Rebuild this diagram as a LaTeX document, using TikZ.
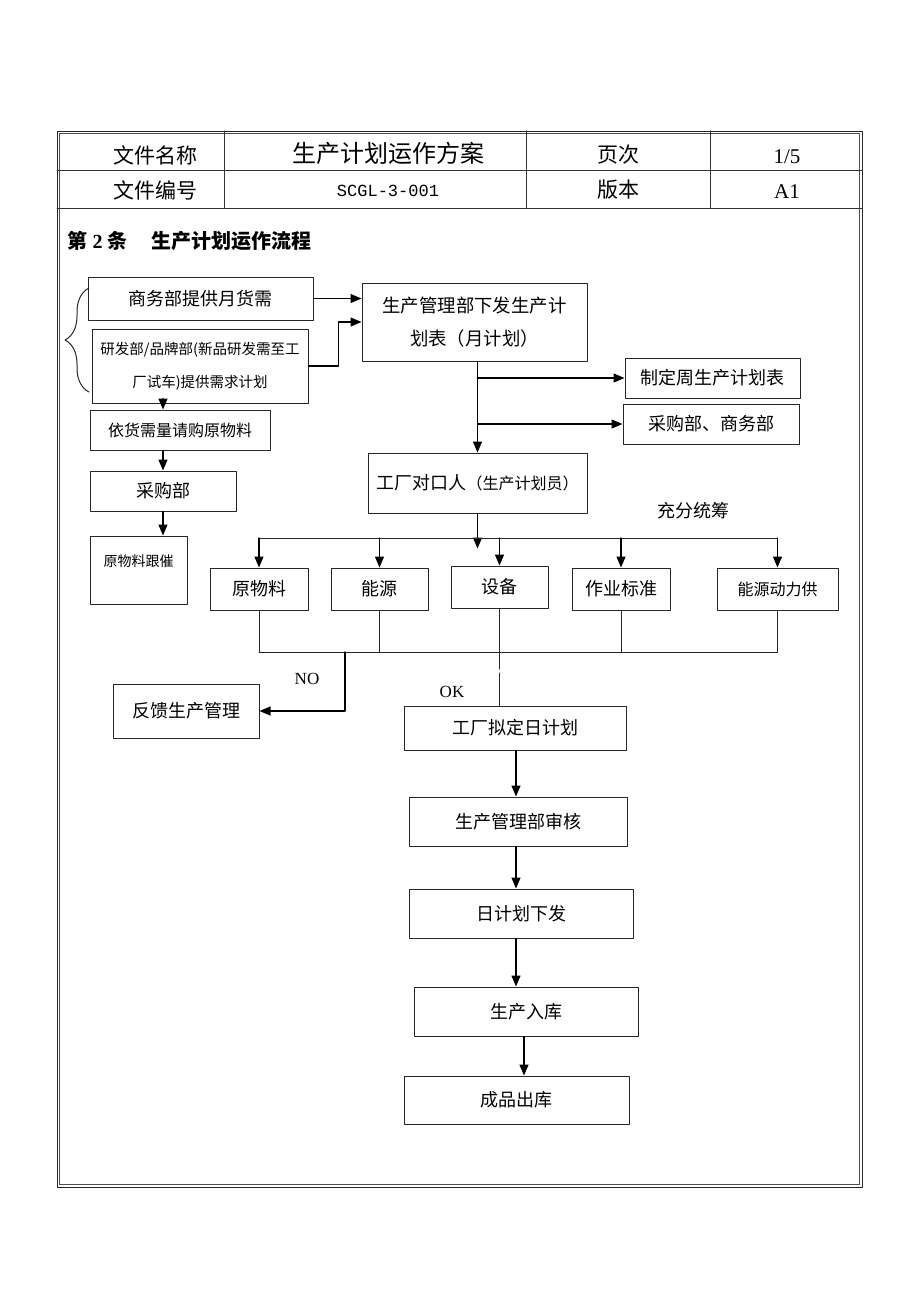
\documentclass[tikz,border=0pt]{standalone}
\usepackage{fontspec}
\setmainfont{Liberation Serif}
\setmonofont{Liberation Mono}
\newfontfamily\cjk{Noto Sans CJK SC}
\usetikzlibrary{arrows.meta,decorations.pathreplacing}
\begin{document}
\begin{tikzpicture}[x=1pt, y=-1pt, line cap=round, line join=round,
	box/.style={draw=black!85, line width=1pt, inner sep=0pt, font=\cjk\fontsize{18}{22}\selectfont},
	arr/.style={-{Triangle[length=11pt,width=9pt]}, line width=1.3pt},
	lnk/.style={line width=1pt, draw=black!85},
	cell/.style={font=\cjk\fontsize{21}{24}\selectfont}]
	\useasboundingbox (0,0) rectangle (920,1302);
	% frame and head table
	\draw[line width=.9pt, black!85] (57,131) rectangle (862,1187);
	\draw[line width=.7pt, black!70] (59.5,133.5) rectangle (859.5,1184.5);
	\draw[line width=.8pt, black!80] (57,170) -- (862,170) (57,208) -- (862,208)
	(224,131) -- (224,208) (526,131) -- (526,208) (710,131) -- (710,208);
	\node[cell] (n1) at (155,155) {文件名称};
	\node[cell, font=\cjk\fontsize{24}{26}\selectfont] (n2) at (388,153) {生产计划运作方案};
	\node[cell] (n3) at (618,155) {页次};
	\node[font=\fontsize{21}{24}\selectfont] (n4) at (787,157) {1/5};
	\node[cell] (n5) at (155,190) {文件编号};
	\node[font=\ttfamily\fontsize{17}{20}\selectfont] (n6) at (388,191) {SCGL-3-001};
	\node[cell] (n7) at (618,190) {版本};
	\node[font=\fontsize{21}{24}\selectfont] (n8) at (787,192) {A1};
	\node[anchor=west, font=\fontsize{20}{24}\selectfont\bfseries] (ttl) at (64,241)
	{{\cjk\bfseries 第} 2 {\cjk\bfseries 条}\hspace{24pt}{\cjk\bfseries 生产计划运作流程}};
	% upper part
	\node[box, minimum width=225, minimum height=43] (sw) at (200.5,298.5) {商务部提供月货需};
	\node[box, minimum width=216, minimum height=74, align=center,
	font=\cjk\fontsize{14.5}{33}\selectfont] (yf) at (200,366) {研发部/品牌部(新品研发需至工\\厂试车)提供需求计划};
	\draw[line width=1pt, black!85] decorate[decoration={brace, amplitude=24pt, aspect=.5}] {(89,392) -- (89,288)};
	\node[box, minimum width=225, minimum height=78, align=center,
	font=\cjk\fontsize{18.4}{33}\selectfont] (xf) at (474.5,322) {生产管理部下发生产计\\划表（月计划）};
	\node[box, minimum width=175, minimum height=40] (zd) at (712.5,378) {制定周生产计划表};
	\node[box, minimum width=176, minimum height=40] (cg2) at (711,424) {采购部、商务部};
	\node[box, minimum width=219, minimum height=60] (dk) at (477.5,483)
	{工厂对口人{\fontsize{16}{18}\selectfont（生产计划员）}};
	\node[box, minimum width=180, minimum height=40, font=\cjk\fontsize{16}{20}\selectfont] (qg) at (180,430) {依货需量请购原物料};
	\node[box, minimum width=146, minimum height=40] (cg) at (163,491) {采购部};
	\node[box, minimum width=97, minimum height=68,
	label={[font=\cjk\fontsize{14}{16}\selectfont, yshift=9pt]center:原物料跟催}] (gc) at (138.5,570) {};
	\node[font=\cjk\fontsize{18}{20}\selectfont] (tc) at (693,511) {充分统筹};
	% five checks
	\node[box, minimum width=98, minimum height=42] (yl) at (259,589) {原物料};
	\node[box, minimum width=97, minimum height=42] (ny) at (379.5,589) {能源};
	\node[box, minimum width=97, minimum height=42] (sb) at (499.5,587) {设备};
	\node[box, minimum width=98, minimum height=42] (zy) at (621,589) {作业标准};
	\node[box, minimum width=121, minimum height=42, font=\cjk\fontsize{16}{20}\selectfont] (dl) at (777.5,589) {能源动力供};
	% daily plan
	\node[box, minimum width=146, minimum height=54] (fk) at (186,711) {\raisebox{3pt}{反馈生产管理}};
	\node[box, minimum width=222, minimum height=44] (nd) at (515,728) {工厂拟定日计划};
	\node[box, minimum width=218, minimum height=49] (sh) at (518,821.5) {生产管理部审核};
	\node[box, minimum width=224, minimum height=49] (xr) at (521,913.5) {日计划下发};
	\node[box, minimum width=224, minimum height=49] (rk) at (526,1011.5) {生产入库};
	\node[box, minimum width=225, minimum height=48] (ck) at (516.5,1100) {成品出库};
	\path (0,538) coordinate (top) (0,652) coordinate (bot) (345,652) coordinate (no)
	(516,0) coordinate (mid);
	\node[font=\fontsize{17}{20}\selectfont] (lno) at (307,679) {NO};
	\node[font=\fontsize{17}{20}\selectfont] (lok) at (452,692) {OK};
	% connectors
	\draw[arr] (sw.east) -- (sw.east -| xf.west);
	\draw[arr] (yf.east) -- ++(30,0) |- (xf.west);
	\draw[arr] (xf.south -| dk.north) -- (dk.north);
	\draw[arr] (dk.north |- zd.west) -- (zd.west);
	\draw[arr] (dk.north |- cg2.west) -- (cg2.west);
	\draw[arr] (yf.south -| cg.north) -- (qg.north -| cg.north);
	\draw[arr] (qg.south -| cg.north) -- (cg.north);
	\draw[arr] (cg.south) -- (gc.north -| cg.south);
	\draw[arr] (dk.south) -- ++(0,35);
	\draw[lnk] (yl.north |- top) -- (dl.north |- top);
	\foreach \n in {yl,ny,sb,zy,dl}
	\draw[arr] (\n.north |- top) -- (\n.north);
	\foreach \n in {yl,ny,sb,zy,dl}
	\draw[lnk] (\n.south) -- (\n.south |- bot);
	\draw[lnk] (yl.south |- bot) -- (dl.south |- bot);
	\draw[arr] (no) |- (fk.east);
	\draw[lnk, dash pattern=on 17pt off 4pt on 80pt off 0pt] (sb.south |- bot) -- (sb.south |- nd.north);
	\draw[arr] (mid |- nd.south) -- (mid |- sh.north);
	\draw[arr] (mid |- sh.south) -- (mid |- xr.north);
	\draw[arr] (mid |- xr.south) -- (mid |- rk.north);
	\draw[arr] ([xshift=-2pt]rk.south) -- ([xshift=-2pt]rk.south |- ck.north);
\end{tikzpicture}
\end{document}
